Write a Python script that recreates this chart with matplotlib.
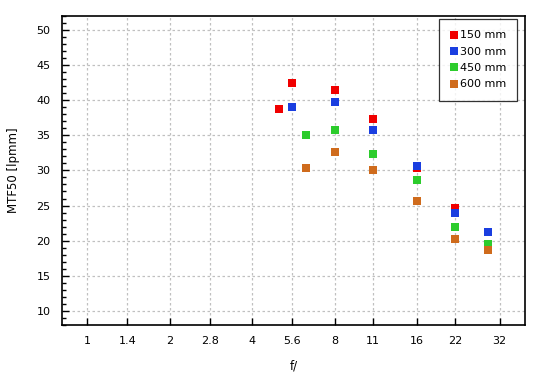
import matplotlib.pyplot as plt
from matplotlib.ticker import FixedLocator, MultipleLocator, NullLocator

plt.rcParams['font.family'] = ['DejaVu Sans']

# aperture values and MTF50 readings per focal length
f_150 = [5.0, 5.6, 8, 11, 16, 22]
mtf_150 = [38.7, 42.4, 41.5, 37.3, 30.3, 24.7]
f_300 = [5.6, 8, 11, 16, 22, 29]
mtf_300 = [39.0, 39.7, 35.8, 30.6, 24.0, 21.2]
f_450 = [6.3, 8, 11, 16, 22, 29]
mtf_450 = [35.0, 35.7, 32.3, 28.6, 21.9, 19.5]
f_600 = [6.3, 8, 11, 16, 22, 29]
mtf_600 = [30.3, 32.6, 30.0, 25.7, 20.2, 18.6]

xticks = [1, 1.4, 2, 2.8, 4, 5.6, 8, 11, 16, 22, 32]
xlabels = ['1', '1.4', '2', '2.8', '4', '5.6', '8', '11', '16', '22', '32']

fig = plt.figure(figsize=(5.5, 3.8), dpi=100)
ax = fig.add_axes([0.112, 0.145, 0.843, 0.813])

series = [
    (f_150, mtf_150, '#f00000', '150 mm'),
    (f_300, mtf_300, '#1a3ee0', '300 mm'),
    (f_450, mtf_450, '#2ccc2c', '450 mm'),
    (f_600, mtf_600, '#cf6b1c', '600 mm'),
]
for fx, mtf, col, lab in series:
    ax.plot(fx, mtf, linestyle='none', marker='s', markersize=5.2,
            markeredgewidth=0, color=col, label=lab, zorder=3)

# stop scale: log of N^2, so use log base 2
ax.set_xscale('log', base=2)
ax.set_xlim(0.805, 39.7)
ax.set_ylim(8, 52)
ax.xaxis.set_major_locator(FixedLocator(xticks))
ax.set_xticklabels(xlabels)
ax.xaxis.set_minor_locator(NullLocator())
ax.yaxis.set_major_locator(MultipleLocator(5))
ax.yaxis.set_minor_locator(MultipleLocator(1))

ax.grid(True, which='major', color='#c0c0c0', linestyle=(0, (2, 2)), linewidth=0.9)
ax.tick_params(axis='both', which='major', direction='in', length=5, width=1,
               labelsize=8, pad=8, color='black')
ax.tick_params(axis='y', which='minor', direction='in', length=3, width=1)
for sp in ax.spines.values():
    sp.set_linewidth(1.2)

ax.set_xlabel('f/', fontsize=8.5, labelpad=10)
ax.set_ylabel('MTF50 [lpmm]', fontsize=8.5, labelpad=12)

leg = ax.legend(loc='upper right', bbox_to_anchor=(0.983, 0.989), fontsize=8,
                frameon=True, fancybox=False, handlelength=0.6, handletextpad=0.25,
                borderpad=1.0, labelspacing=0.57, borderaxespad=0, markerscale=1.2)
leg.get_frame().set_edgecolor('black')
leg.get_frame().set_linewidth(0.9)

fig.savefig('out.png', dpi=100)
